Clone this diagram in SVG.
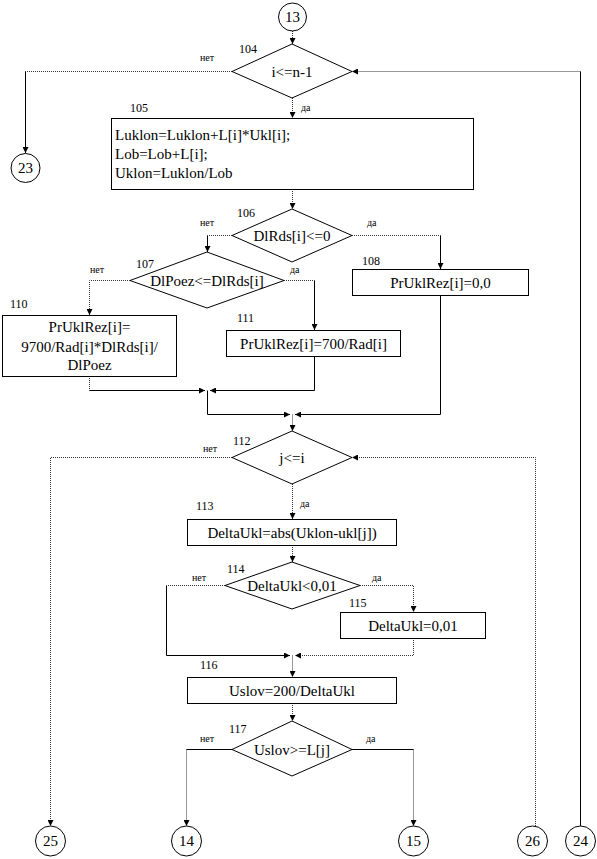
<svg xmlns="http://www.w3.org/2000/svg" width="597" height="859" viewBox="0 0 597 859" font-family="'Liberation Serif', 'DejaVu Serif', serif">
<style>
text{font-family:"Liberation Serif","DejaVu Serif",serif;fill:#000}
.t{font-size:15px}
.n{font-size:12px}
.l{font-size:10px}
.m{text-anchor:middle}
.s{fill:#fff;stroke:#000;stroke-width:1}
.c{fill:none;stroke:#000;stroke-width:1}
.d{fill:none;stroke:#333;stroke-width:1;stroke-dasharray:1 1}
</style>
<defs>
<marker id="a" viewBox="0 0 6 6" refX="6" refY="3" markerWidth="6" markerHeight="6" markerUnits="userSpaceOnUse" orient="auto">
<path d="M0,0 L6,3 L0,6 z" fill="#000"/>
</marker>
</defs>
<rect width="597" height="859" fill="#fff"/>
<g id="connectors">
<path class="d" d="M292.5,31 V44" marker-end="url(#a)"/>
<path class="d" d="M232,71.5 H25.5"/>
<path class="c" d="M25.5,71.5 V153" marker-end="url(#a)"/>
<path class="c" d="M580.5,826 V71.5"/>
<path class="d" d="M580.5,71.5 H352" marker-end="url(#a)"/>
<path class="d" d="M292.5,98 V118" marker-end="url(#a)"/>
<path class="d" d="M292.5,189 V209" marker-end="url(#a)"/>
<path class="d" d="M232,235.5 H207.5"/>
<path class="c" d="M207.5,235.5 V252" marker-end="url(#a)"/>
<path class="d" d="M352,235.5 H440.5"/>
<path class="c" d="M440.5,235.5 V269" marker-end="url(#a)"/>
<path class="d" d="M130,280.5 H89.5 V315" marker-end="url(#a)"/>
<path class="d" d="M284,280.5 H314.5"/>
<path class="c" d="M314.5,280.5 V330" marker-end="url(#a)"/>
<path class="d" d="M89.5,376 V390.5"/>
<path class="c" d="M89.5,390.5 H205" marker-end="url(#a)"/>
<path class="c" d="M314.5,356 V390.5 H210" marker-end="url(#a)"/>
<path class="c" d="M207.5,390.5 V414.5 H290" marker-end="url(#a)"/>
<path class="c" d="M440.5,295 V414.5 H295" marker-end="url(#a)"/>
<path class="d" d="M292.5,414.5 V431" marker-end="url(#a)"/>
<path class="d" d="M232,457.5 H50.5 V826" marker-end="url(#a)"/>
<path class="d" d="M535.5,826 V457.5 H352" marker-end="url(#a)"/>
<path class="d" d="M292.5,484 V519" marker-end="url(#a)"/>
<path class="d" d="M292.5,545 V562" marker-end="url(#a)"/>
<path class="d" d="M225,585.5 H166.5"/>
<path class="c" d="M166.5,585.5 V655.5 H290" marker-end="url(#a)"/>
<path class="d" d="M360,585.5 H413.5 V612" marker-end="url(#a)"/>
<path class="d" d="M413.5,638 V655.5 H295" marker-end="url(#a)"/>
<path class="d" d="M292.5,655.5 V677" marker-end="url(#a)"/>
<path class="d" d="M292.5,703 V721" marker-end="url(#a)"/>
<path class="c" d="M232,749.5 H186.5"/>
<path class="d" d="M186.5,749.5 V826" marker-end="url(#a)"/>
<path class="c" d="M352,749.5 H413.5"/>
<path class="d" d="M413.5,749.5 V826" marker-end="url(#a)"/>
</g>
<g id="c13"><circle class="s" cx="292.5" cy="17" r="14"/><text class="t m" x="292.5" y="22">13</text></g>
<g id="n104"><polygon class="s" points="292,44 352,71.5 292,98 232,71.5"/><text class="t m" x="292" y="77">i&lt;=n-1</text>
<text class="n" x="239" y="53">104</text><text class="l" x="200" y="61">нет</text><text class="l" x="301" y="111">да</text></g>
<g id="c23"><circle class="s" cx="25.5" cy="168" r="14.5"/><text class="t m" x="25.5" y="173">23</text></g>
<g id="n105"><rect class="s" x="111.5" y="118.5" width="362" height="71"/>
<text class="t" x="115" y="140">Luklon=Luklon+L[i]*Ukl[i];</text>
<text class="t" x="115" y="159">Lob=Lob+L[i];</text>
<text class="t" x="115" y="178">Uklon=Luklon/Lob</text>
<text class="n" x="130" y="112">105</text></g>
<g id="n106"><polygon class="s" points="292,209 352,235.5 292,262 232,235.5"/><text class="t m" x="292" y="241">DlRds[i]&lt;=0</text>
<text class="n" x="237" y="217">106</text><text class="l" x="200" y="226">нет</text><text class="l" x="367" y="226">да</text></g>
<g id="n107"><polygon class="s" points="207,252 284,280.5 207,308 130,280.5"/><text class="t m" x="207" y="286">DlPoez&lt;=DlRds[i]</text>
<text class="n" x="136" y="268">107</text><text class="l" x="90" y="273">нет</text><text class="l" x="290" y="273">да</text></g>
<g id="n108"><rect class="s" x="352.5" y="269.5" width="176" height="26"/><text class="t m" x="440.5" y="288">PrUklRez[i]=0,0</text>
<text class="n" x="362" y="265">108</text></g>
<g id="n110"><rect class="s" x="2.5" y="315.5" width="174" height="61"/>
<text class="t m" x="89.5" y="332">PrUklRez[i]=</text>
<text class="t m" x="89.5" y="352">9700/Rad[i]*DlRds[i]/</text>
<text class="t m" x="89.5" y="370">DlPoez</text>
<text class="n" x="10" y="308">110</text></g>
<g id="n111"><rect class="s" x="226.5" y="330.5" width="174" height="26"/><text class="t m" x="313.5" y="349">PrUklRez[i]=700/Rad[i]</text>
<text class="n" x="237" y="322">111</text></g>
<g id="n112"><polygon class="s" points="292,431 352,457.5 292,484 232,457.5"/><text class="t m" x="292" y="463">j&lt;=i</text>
<text class="n" x="233" y="445">112</text><text class="l" x="203" y="452">нет</text><text class="l" x="300" y="507">да</text></g>
<g id="n113"><rect class="s" x="187.5" y="519.5" width="209" height="26"/><text class="t m" x="292" y="538">DeltaUkl=abs(Uklon-ukl[j])</text>
<text class="n" x="196" y="510">113</text></g>
<g id="n114"><polygon class="s" points="292,562 360,585.5 292,609 225,585.5"/><text class="t m" x="292" y="591">DeltaUkl&lt;0,01</text>
<text class="n" x="227" y="573">114</text><text class="l" x="192" y="581">нет</text><text class="l" x="372" y="581">да</text></g>
<g id="n115"><rect class="s" x="340.5" y="612.5" width="145" height="26"/><text class="t m" x="413" y="631">DeltaUkl=0,01</text>
<text class="n" x="349" y="607">115</text></g>
<g id="n116"><rect class="s" x="187.5" y="677.5" width="209" height="26"/><text class="t m" x="292" y="696">Uslov=200/DeltaUkl</text>
<text class="n" x="200" y="669">116</text></g>
<g id="n117"><polygon class="s" points="292,721 352,749.5 292,776 232,749.5"/><text class="t m" x="292" y="755">Uslov&gt;=L[j]</text>
<text class="n" x="229" y="733">117</text><text class="l" x="200" y="742">нет</text><text class="l" x="366" y="742">да</text></g>
<g id="c25"><circle class="s" cx="50.5" cy="841" r="15"/><text class="t m" x="50.5" y="846">25</text></g>
<g id="c14"><circle class="s" cx="186.5" cy="841" r="15"/><text class="t m" x="186.5" y="846">14</text></g>
<g id="c15"><circle class="s" cx="413.5" cy="841" r="15"/><text class="t m" x="413.5" y="846">15</text></g>
<g id="c26"><circle class="s" cx="532.5" cy="841" r="15"/><text class="t m" x="532.5" y="846">26</text></g>
<g id="c24"><circle class="s" cx="580.5" cy="841" r="15"/><text class="t m" x="580.5" y="846">24</text></g>
</svg>
